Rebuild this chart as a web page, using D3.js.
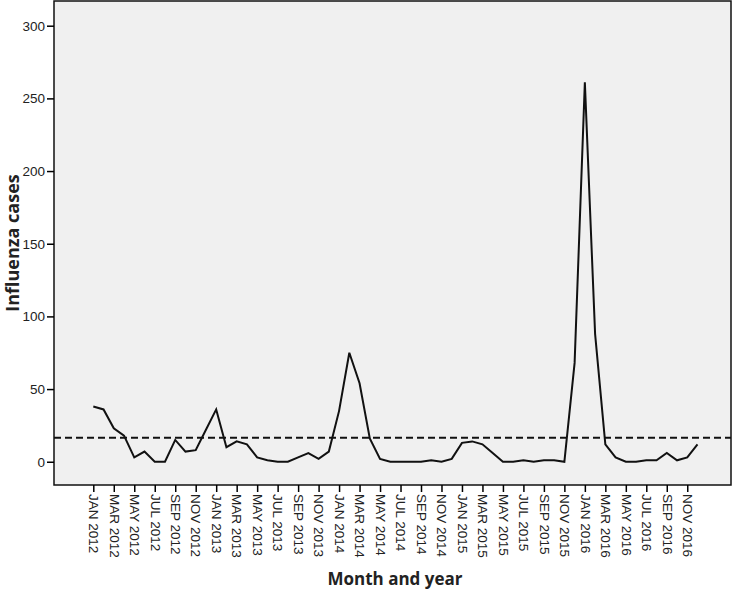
<!DOCTYPE html>
<html>
<head>
<meta charset="utf-8">
<script src="https://cdn.jsdelivr.net/npm/d3@7"></script>
<style>
  body { margin: 0; background: #fff; }
  .axis text { font-family: "Liberation Sans", Arial, sans-serif; font-size: 13.5px; fill: #222; }
  .axis path { display: none; }
  .axis line { stroke: #000; stroke-width: 1.5; }
  .title { font-family: "Open Sans", sans-serif; font-weight: 700; font-size: 17px; fill: #222; }
</style>
</head>
<body>
<div id="chart-area"></div>
<script>
const MONTH_NAMES = ['JAN', 'FEB', 'MAR', 'APR', 'MAY', 'JUN', 'JUL', 'AUG', 'SEP', 'OCT', 'NOV', 'DEC'];
const YEARS = [2012, 2013, 2014, 2015, 2016];
const CASES = [
  38, 36, 23, 18, 3, 7, 0, 0, 15, 7, 8, 22,
  36, 10, 14, 12, 3, 1, 0, 0, 3, 6, 2, 7,
  35, 75, 54, 16, 2, 0, 0, 0, 0, 1, 0, 2,
  13, 14, 12, 6, 0, 0, 1, 0, 1, 1, 0, 68,
  261, 88, 12, 3, 0, 0, 1, 1, 6, 1, 3, 12,
];
const THRESHOLD = 16.5;
const Y_TICKS = [0, 50, 100, 150, 200, 250, 300];

const LABELS = YEARS.flatMap((yr) => MONTH_NAMES.map((m) => m + ' ' + yr));
const DATA = LABELS.map((label, i) => ({ label: label, value: CASES[i] }));

const W = 737, H = 590;
// plot frame
const frame = { left: 54, top: 1, right: 731, bottom: 485 };

const svg = d3.select('#chart-area')
  .append('svg')
  .attr('width', W)
  .attr('height', H);

const x = d3.scalePoint()
  .domain(LABELS)
  .range([93.3, 697.5]);

const y = d3.scaleLinear()
  .domain([-16, 317])
  .range([frame.bottom, frame.top]);

svg.append('rect')
  .attr('x', frame.left)
  .attr('y', frame.top)
  .attr('width', frame.right - frame.left)
  .attr('height', frame.bottom - frame.top)
  .attr('fill', '#f0f0f0')
  .attr('stroke', '#111')
  .attr('stroke-width', 1.5);

// y axis
svg.append('g')
  .attr('class', 'axis y-axis')
  .attr('transform', 'translate(' + frame.left + ',0)')
  .call(d3.axisLeft(y).tickValues(Y_TICKS).tickSize(7).tickPadding(2));

// x axis, every other month
svg.append('g')
  .attr('class', 'axis x-axis')
  .attr('transform', 'translate(0,' + frame.bottom + ')')
  .call(d3.axisBottom(x).tickValues(LABELS.filter((d, i) => i % 2 === 0)).tickSize(7))
  .selectAll('text')
  .attr('transform', 'rotate(90)')
  .attr('x', 9)
  .attr('y', 0)
  .attr('dy', '0.35em')
  .style('text-anchor', 'start');

// reference line
svg.append('line')
  .attr('x1', frame.left)
  .attr('x2', frame.right)
  .attr('y1', y(THRESHOLD))
  .attr('y2', y(THRESHOLD))
  .attr('stroke', '#111')
  .attr('stroke-width', 1.8)
  .attr('stroke-dasharray', '7 4');

const line = d3.line()
  .x((d) => x(d.label))
  .y((d) => y(d.value));

svg.append('path')
  .datum(DATA)
  .attr('fill', 'none')
  .attr('stroke', '#111')
  .attr('stroke-width', 2)
  .attr('stroke-linejoin', 'miter')
  .attr('d', line);

svg.append('text')
  .attr('class', 'title')
  .attr('x', 395)
  .attr('y', 585)
  .attr('text-anchor', 'middle')
  .text('Month and year');

svg.append('text')
  .attr('class', 'title')
  .attr('transform', 'translate(19,' + ((frame.top + frame.bottom) / 2) + ') rotate(-90)')
  .attr('text-anchor', 'middle')
  .style('font-size', '18px')
  .text('Influenza cases');
</script>
</body>
</html>
